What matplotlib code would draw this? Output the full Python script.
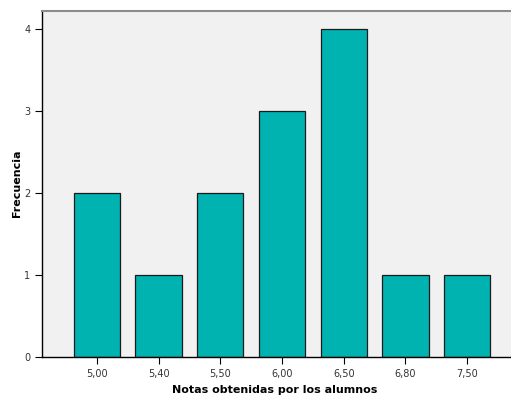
import numpy as np
import matplotlib.pyplot as plt

notas = ["5,00", "5,40", "5,50", "6,00", "6,50", "6,80", "7,50"]
frecuencia = [2, 1, 2, 3, 4, 1, 1]

fig = plt.figure(figsize=(5.11, 3.96), dpi=100)
ax = fig.add_axes([42/511, 39/396, 1 - 42/511, 346/396])
ax.set_facecolor("#f1f1f1")

x = np.arange(len(notas))
ax.bar(x, frecuencia, width=0.75, color="#00b2b0", edgecolor="#1a1a1a", linewidth=0.9, zorder=2)

ax.set_xlim(-0.89, 6.71)
ax.set_ylim(0, 4.22)
ax.set_xticks(x)
ax.set_xticklabels(notas)
ax.set_yticks([0, 1, 2, 3, 4])
ax.tick_params(axis="both", labelsize=7, length=5, color="black", labelcolor="#333333", direction="out")

for side in ["left", "bottom"]:
    ax.spines[side].set_color("black")
    ax.spines[side].set_linewidth(1)
ax.spines["top"].set_color("#8c8c8c")
ax.spines["top"].set_linewidth(1.5)
ax.spines["right"].set_visible(False)

ax.set_xlabel("Notas obtenidas por los alumnos", fontsize=8, fontweight="bold", va="center")
ax.set_ylabel("Frecuencia", fontsize=8, fontweight="bold", va="center", ha="center")
ax.xaxis.set_label_coords((275 - 42) / 469, (6 - 39) / 346)
ax.yaxis.set_label_coords((17 - 42) / 469, (396 - 183 - 39) / 346)

fig.savefig("out.png", dpi=100)
